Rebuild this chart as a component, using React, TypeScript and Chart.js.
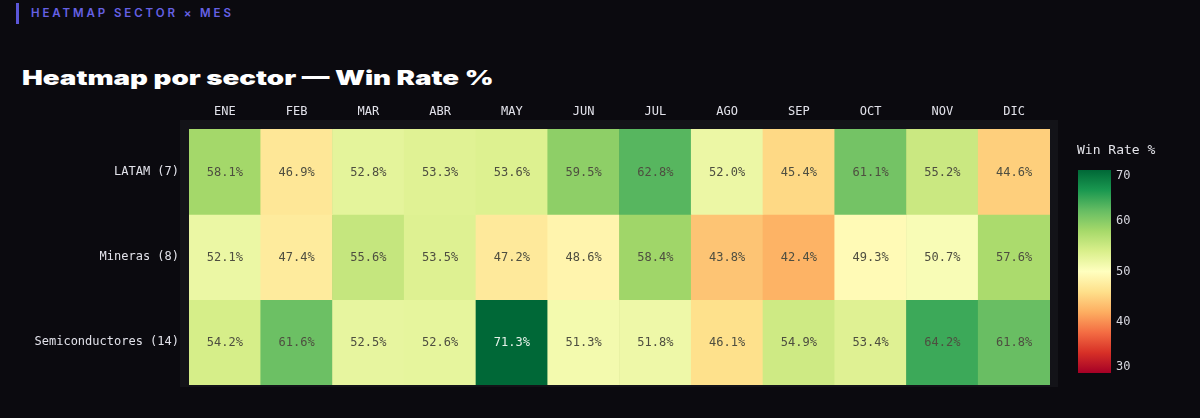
import React, { useEffect, useLayoutEffect, useRef } from "react";
import { Chart, registerables } from "chart.js";

Chart.register(...registerables);

const months = ["ENE", "FEB", "MAR", "ABR", "MAY", "JUN", "JUL", "AGO", "SEP", "OCT", "NOV", "DIC"];
const sectors = ["LATAM (7)", "Mineras (8)", "Semiconductores (14)"];
const latam = [58.1, 46.9, 52.8, 53.3, 53.6, 59.5, 62.8, 52.0, 45.4, 61.1, 55.2, 44.6];
const mineras = [52.1, 47.4, 55.6, 53.5, 47.2, 48.6, 58.4, 43.8, 42.4, 49.3, 50.7, 57.6];
const semis = [54.2, 61.6, 52.5, 52.6, 71.3, 51.3, 51.8, 46.1, 54.9, 53.4, 64.2, 61.8];
const rows = [latam, mineras, semis];
const zMin = 30;
const zMax = 70;
const colorbarTicks = [30, 40, 50, 60, 70];
const colorbarTitle = "Win Rate %";

const RdYlGn = [
  "#a50026", "#d73027", "#f46d43", "#fdae61", "#fee08b", "#ffffbf",
  "#d9ef8b", "#a6d96a", "#66bd63", "#1a9850", "#006837",
];

function hexToRgb(h: string) {
  return [parseInt(h.slice(1, 3), 16), parseInt(h.slice(3, 5), 16), parseInt(h.slice(5, 7), 16)];
}

function colorFor(v: number): number[] {
  let t = (v - zMin) / (zMax - zMin);
  t = Math.max(0, Math.min(1, t));
  const p = t * (RdYlGn.length - 1);
  const i = Math.min(Math.floor(p), RdYlGn.length - 2);
  const f = p - i;
  const a = hexToRgb(RdYlGn[i]);
  const b = hexToRgb(RdYlGn[i + 1]);
  return [0, 1, 2].map((k) => Math.round(a[k] + (b[k] - a[k]) * f));
}

const rgbStr = (c: number[]) => `rgb(${c[0]},${c[1]},${c[2]})`;

const MONO = "'DejaVu Sans Mono', 'Liberation Mono', monospace";

const panelPlugin = {
  id: "panel",
  beforeDraw(chart: any) {
    const { ctx, chartArea } = chart;
    ctx.save();
    ctx.fillStyle = "#131318";
    ctx.fillRect(chartArea.left - 9, chartArea.top - 9, chartArea.right - chartArea.left + 17, chartArea.bottom - chartArea.top + 11);
    ctx.restore();
  },
};

const labelPlugin = {
  id: "cellLabels",
  afterDatasetsDraw(chart: any) {
    const { ctx } = chart;
    ctx.save();
    ctx.font = `12px ${MONO}`;
    ctx.textAlign = "center";
    ctx.textBaseline = "middle";
    chart.data.datasets.forEach((ds: any, di: number) => {
      const meta = chart.getDatasetMeta(di);
      meta.data.forEach((el: any, j: number) => {
        const v = rows[di][j];
        const c = colorFor(v);
        const lum = 0.299 * c[0] + 0.587 * c[1] + 0.114 * c[2];
        ctx.fillStyle = lum < 110 ? "#e6f2ea" : "#4e4e40";
        ctx.fillText(v.toFixed(1) + "%", el.x, (el.y + el.base) / 2 + 1);
      });
    });
    ctx.restore();
  },
};

const colorbarPlugin = {
  id: "colorbar",
  afterDraw(chart: any) {
    const { ctx } = chart;
    const x0 = 1078, x1 = 1111, yTop = 170, yBot = 373;
    ctx.save();
    const g = ctx.createLinearGradient(0, yBot, 0, yTop);
    RdYlGn.forEach((c, i) => g.addColorStop(i / (RdYlGn.length - 1), c));
    ctx.fillStyle = g;
    ctx.fillRect(x0, yTop, x1 - x0, yBot - yTop);
    ctx.fillStyle = "#d8d8e0";
    ctx.font = `12px ${MONO}`;
    ctx.textAlign = "left";
    ctx.textBaseline = "middle";
    colorbarTicks.forEach((t) => {
      const y = yBot - ((t - zMin) / (zMax - zMin)) * (yBot - yTop);
      const yy = Math.min(Math.max(y, yTop + 6), yBot - 6);
      ctx.fillText(String(t), x1 + 5, yy);
    });
    ctx.font = `13px ${MONO}`;
    ctx.fillStyle = "#e4e4ea";
    ctx.fillText(colorbarTitle, 1077, 151);
    ctx.restore();
  },
};

export default function App() {
  const canvasRef = useRef<HTMLCanvasElement | null>(null);
  const titleRef = useRef<HTMLSpanElement | null>(null);

  useLayoutEffect(() => {
    const el = titleRef.current;
    if (el) {
      const w = el.offsetWidth;
      if (w > 0) el.style.transform = `scaleX(${471 / w})`;
    }
  }, []);

  useEffect(() => {
    if (!canvasRef.current) return;
    const chart = new Chart(canvasRef.current, {
      type: "bar",
      data: {
        labels: months,
        datasets: rows.map((vals, r) => ({
          label: sectors[r],
          data: vals.map(() => [r - 0.5, r + 0.5]) as any,
          backgroundColor: vals.map((v) => rgbStr(colorFor(v))),
          borderWidth: 0,
          barPercentage: 1,
          categoryPercentage: 1,
          grouped: false,
        })),
      },
      options: {
        animation: false,
        responsive: false,
        maintainAspectRatio: false,
        layout: { padding: { top: 100, right: 150, bottom: 33, left: 0 } },
        plugins: { legend: { display: false }, tooltip: { enabled: false } },
        scales: {
          x: {
            type: "category",
            position: "top",
            offset: true,
            grid: { display: false, drawTicks: false },
            border: { display: false },
            ticks: { color: "#e2e2ea", font: { family: MONO, size: 12 }, padding: 10 },
            afterFit: (s: any) => { s.height = 29; },
          },
          y: {
            type: "linear",
            min: -0.5,
            max: 2.5,
            reverse: true,
            grid: { display: false, drawTicks: false },
            border: { display: false },
            afterBuildTicks: (s: any) => { s.ticks = sectors.map((_, i) => ({ value: i })); },
            ticks: {
              color: "#e2e2ea",
              font: { family: MONO, size: 12 },
              padding: 10,
              callback: (v: any) => sectors[v as number] ?? "",
            },
            afterFit: (s: any) => { s.width = 189; },
          },
        },
      } as any,
      plugins: [panelPlugin, labelPlugin, colorbarPlugin],
    });
    return () => chart.destroy();
  }, []);

  return (
    <div style={{ position: "fixed", left: 0, top: 0, width: 1200, height: 418, background: "#0b0a0f", overflow: "hidden" }}>
      <div style={{ position: "absolute", left: 16, top: 3, width: 3, height: 21, background: "#5b56d8" }} />
      <div
        style={{
          position: "absolute", left: 31, top: 5, fontFamily: "Inter, 'Noto Sans', sans-serif",
          fontWeight: 600, fontSize: 11.5, letterSpacing: 2.9, color: "#6661e4", lineHeight: "16px", whiteSpace: "nowrap",
        }}
      >
        HEATMAP SECTOR × MES
      </div>
      <span
        ref={titleRef}
        style={{
          position: "absolute", left: 22, top: 65, fontFamily: "Inter, 'Noto Sans', sans-serif",
          fontWeight: 900, fontSize: 20, color: "#ffffff", lineHeight: "26px", whiteSpace: "nowrap",
          transformOrigin: "left center", display: "inline-block",
        }}
      >
        Heatmap por sector — Win Rate %
      </span>
      <canvas ref={canvasRef} width={1200} height={418} style={{ position: "absolute", left: 0, top: 0, width: 1200, height: 418 }} />
    </div>
  );
}
